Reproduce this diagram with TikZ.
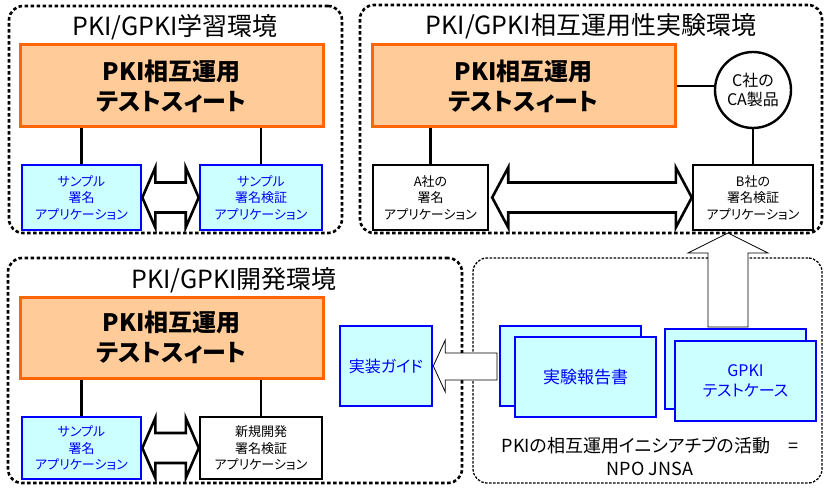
\documentclass[tikz,border=0pt]{standalone}
\usepackage{fontspec}
\setmainfont{Noto Sans CJK JP}[RawFeature=+palt]
\usetikzlibrary{calc,shapes.geometric}
\definecolor{orfill}{HTML}{FFCC99}
\definecolor{ordraw}{HTML}{FF6600}
\definecolor{cyfill}{HTML}{CCFFFF}
\definecolor{bl}{HTML}{0000FF}
\tikzset{
  region/.style={draw, line width=2.6pt, dash pattern=on 3.5pt off 2.5pt, rounded corners=14pt, inner sep=0pt},
  regionthin/.style={draw, line width=1.3pt, dash pattern=on 2.5pt off 1.5pt, rounded corners=14pt, inner sep=0pt},
  rtitle/.style={font=\fontsize{25}{30}\selectfont, inner sep=0pt},
  suite/.style={draw=ordraw, fill=orfill, line width=3pt, minimum width=303pt, minimum height=82pt, inner sep=0pt, align=center, font=\fontsize{24}{30}\selectfont\bfseries},
  cybox/.style={draw=bl, fill=cyfill, line width=2.6pt, inner sep=0pt, align=center, text=bl},
  wbox/.style={draw, fill=white, line width=2.4pt, inner sep=0pt, align=center},
  small/.style={font=\fontsize{13}{16.5}\selectfont},
  link/.style={line width=2.4pt},
  fatarrow/.style={draw, fill=white, line width=2.6pt, line join=miter},
  thinarrow/.style={draw, fill=white, line width=0.8pt, line join=miter},
}
\begin{document}
\begin{tikzpicture}[x=1pt,y=-1pt]
\useasboundingbox (0,0) rectangle (825,489);
% regions
\node[region, minimum width=333pt, minimum height=227pt] (r1) at (175.5,119.5) {};
\node[region, minimum width=462pt, minimum height=228pt] (r2) at (591,119) {};
\node[region, minimum width=454pt, minimum height=225pt] (r3) at (235,370.5) {};
\node[regionthin, minimum width=349pt, minimum height=225pt] (r4) at (647.5,370.5) {};
% titles
\node[rtitle] (t1) at (175,27) {PKI/GPKI学習環境};
\node[rtitle] (t2) at (591,26) {PKI/GPKI相互運用性実験環境};
\node[rtitle] (t3) at (234,280) {PKI/GPKI開発環境};
% suites
\node[suite] (o1) at (171.5,86) {PKI相互運用\\テストスィート};
\node[suite] (o2) at (523.5,86) {PKI相互運用\\テストスィート};
\node[suite, minimum height=81pt] (o3) at (171.5,337.5) {PKI相互運用\\テストスィート};
% top-left boxes
\node[cybox, small, minimum width=119pt, minimum height=65pt] (s1) at (81.5,197.5) {サンプル\\署名\\アプリケーション};
\node[cybox, small, minimum width=122pt, minimum height=65pt] (s2) at (261,197.5) {サンプル\\署名検証\\アプリケーション};
% top-right
\node[wbox, small, minimum width=115pt, minimum height=65pt] (a) at (430.5,197.5) {A社の\\署名\\アプリケーション};
\node[wbox, small, minimum width=120pt, minimum height=65pt] (b) at (753,197.5) {B社の\\署名検証\\アプリケーション};
\node[circle, draw, fill=white, line width=2.4pt, minimum size=76pt, inner sep=0pt, align=center, font=\fontsize{16}{19}\selectfont] (c) at (753,90) {C社の\\CA製品};
% bottom-left
\node[cybox, small, minimum width=119pt, minimum height=62pt] (s3) at (81.5,448) {サンプル\\署名\\アプリケーション};
\node[wbox, small, minimum width=122pt, minimum height=62pt] (n) at (261,448) {新規開発\\署名検証\\アプリケーション};
\node[cybox, font=\fontsize{16}{20}\selectfont, minimum width=92pt, minimum height=80pt] (g) at (386,366) {実装ガイド};
% bottom-right documents
\node[cybox, minimum width=141pt, minimum height=80pt] (rb) at (570.5,366) {};
\node[cybox, font=\fontsize{17}{20}\selectfont, minimum width=141pt, minimum height=80pt] (rf) at (585.5,377) {実験報告書};
\node[cybox, minimum width=141pt, minimum height=80pt] (gb) at (735.5,369) {};
\node[cybox, font=\fontsize{16}{20}\selectfont, minimum width=141pt, minimum height=80pt] (gf) at (745.5,381) {GPKI\\テストケース};
\node[font=\fontsize{18}{23}\selectfont, align=center, inner sep=0pt] (npo) at (650,456) {PKIの相互運用イニシアチブの活動\hspace{1em}=\\NPO JNSA};
% links
\draw[link] (s1.north) -- (s1.north |- o1.south);
\draw[link] (s2.north) -- (s2.north |- o1.south);
\draw[link] (s3.north) -- (s3.north |- o3.south);
\draw[link] (n.north) -- (n.north |- o3.south);
\draw[link] (a.north) -- (a.north |- o2.south);
\draw[link] (b.north) -- (c.south);
\draw[link] (o2.east) -- (o2.east -| c.west);
% double arrows
\draw[fatarrow] (s1.east) -- ++(13,-30) -- ++(0,15) -- ($(s2.west)+(-13,-15)$) -- ++(0,-15) -- (s2.west) -- ++(-13,30) -- ++(0,-15) -- ($(s1.east)+(13,15)$) -- ++(0,15) -- cycle;
\draw[fatarrow] (s3.east) -- ++(13,-30) -- ++(0,15) -- ($(n.west)+(-13,-15)$) -- ++(0,-15) -- (n.west) -- ++(-13,30) -- ++(0,-15) -- ($(s3.east)+(13,15)$) -- ++(0,15) -- cycle;
\draw[fatarrow] ($(a.east)+(3,0)$) -- ++(16,-30) -- ++(0,15) -- ($(b.west)+(-16,-15)$) -- ++(0,-15) -- (b.west) -- ++(-16,30) -- ++(0,-15) -- ($(a.east)+(19,15)$) -- ++(0,15) -- cycle;
% up arrow
\coordinate (uptip) at (728,233);
\coordinate (uptail) at (728,327);
\draw[thinarrow] (uptip) -- ++(40,20) -- ++(-20,0) -- ($(uptail)+(20,0)$) -- ++(-40,0) -- ($(uptip)+(-20,20)$) -- ++(-20,0) -- cycle;
% left arrow
\coordinate (lttail) at (497,366);
\draw[thinarrow] (g.east) -- ++(12,-26) -- ++(0,13) -- ($(lttail)+(0,-13)$) -- ++(0,27) -- ($(g.east)+(12,14)$) -- ++(0,12) -- cycle;
\end{tikzpicture}
\end{document}
